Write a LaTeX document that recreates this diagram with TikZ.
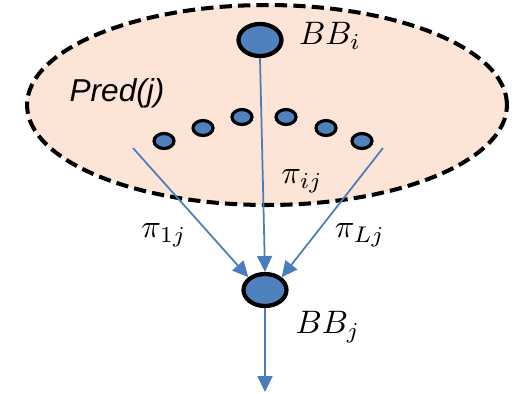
\documentclass[tikz,border=0pt]{standalone}
\usepackage{fontspec}
\newfontfamily\predfont{Liberation Sans}
\usetikzlibrary{shapes.geometric,arrows.meta}
\definecolor{peach}{HTML}{FCE4D6}
\definecolor{bbblue}{HTML}{4F81BD}
\definecolor{arrblue}{HTML}{4A7EBB}
\tikzset{
  bignode/.style={ellipse,draw=black,fill=bbblue,line width=2.4pt,minimum width=0.86cm,minimum height=0.64cm,inner sep=0pt},
  smallnode/.style={ellipse,draw=black,fill=bbblue,line width=1.8pt,minimum width=0.40cm,minimum height=0.30cm,inner sep=0pt},
  flow/.style={draw=arrblue,line width=1pt,-{Triangle[length=9pt,width=8.5pt]}},
  lbl/.style={inner sep=0pt,scale=1.85}
}
\begin{document}
\begin{tikzpicture}[x=0.02cm,y=-0.02cm]
\useasboundingbox (0,0) rectangle (518,393);
% region
\node[ellipse,draw=black,fill=peach,line width=2.3pt,dash pattern=on 7pt off 3.5pt,
  minimum width=9.6cm,minimum height=4.0cm,inner sep=0pt] (pred) at (267,105) {};
\node[inner sep=0pt,font=\predfont\itshape\fontsize{18}{20}\selectfont] (predlbl) at (117,93) {Pred(j)};
% nodes
\node[bignode] (bbi) at (260,40) {};
\node[bignode] (bbj) at (265,290) {};
\node[smallnode] (d1) at (164,141) {};
\node[smallnode] (d2) at (203,128) {};
\node[smallnode] (d3) at (242,117) {};
\node[smallnode] (d4) at (286,117) {};
\node[smallnode] (d5) at (326,128) {};
\node[smallnode] (d6) at (362,141) {};
% labels
\node[lbl] (lbbi) at (330,36) {$BB_i$};
\node[lbl] (lbbj) at (328,327) {$BB_j$};
\node[lbl] (pij) at (302,181) {$\pi_{ij}$};
\node[lbl] (p1j) at (164,235) {$\pi_{1j}$};
\node[lbl] (pLj) at (360,235) {$\pi_{Lj}$};
% connectors
\coordinate (s1) at (133,148);
\coordinate (sL) at (383,148);
\coordinate (out) at (265,392);
\draw[flow] (s1) -- (bbj.north west);
\draw[flow] (bbi.south) -- (bbj.north);
\draw[flow] (sL) -- (bbj.north east);
\draw[flow] (bbj.south) -- (out);
\end{tikzpicture}
\end{document}
